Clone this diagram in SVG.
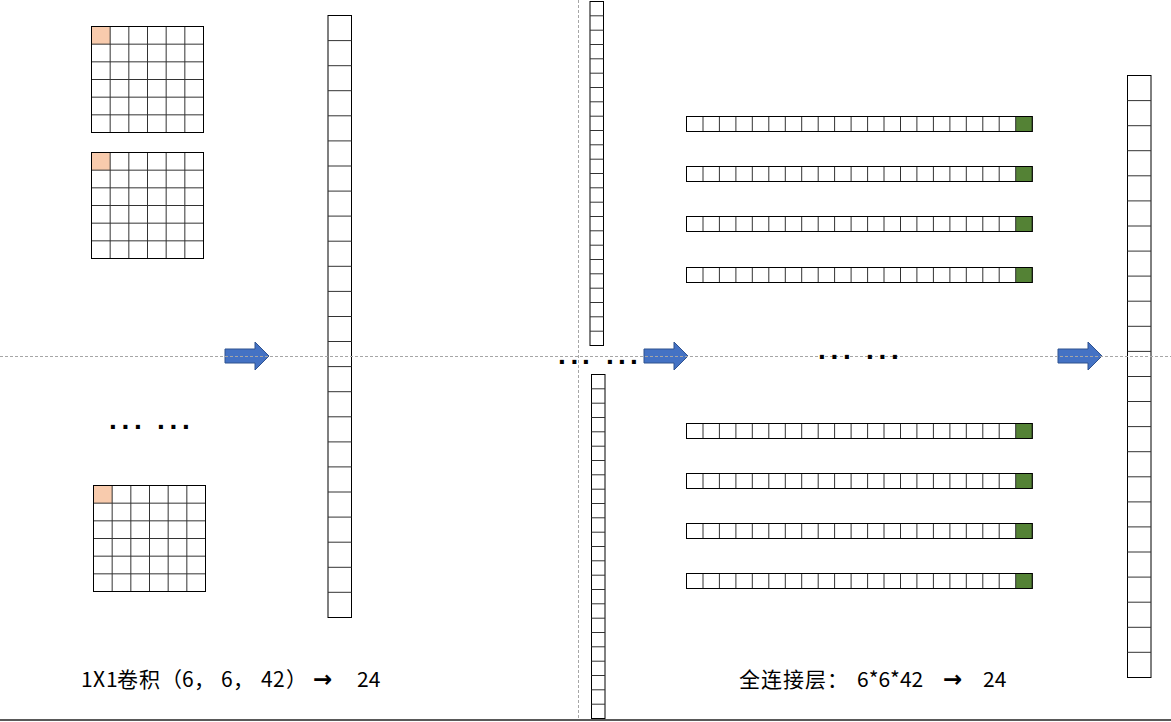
<svg xmlns="http://www.w3.org/2000/svg" xmlns:xlink="http://www.w3.org/1999/xlink" width="1171" height="722" viewBox="0 0 1171 722">
<style>
.cell{fill:#fff;stroke:#000;stroke-width:1}
.inner{fill:none;stroke:#333;stroke-width:1}
.orange{fill:#F8CBAD}
.green{fill:#548235}
.arrow{fill:#4472C4;stroke:#2F528F;stroke-width:1}
.dash{stroke:#a6a6a6;stroke-width:1;stroke-dasharray:3 2;fill:none}
.lbl{font-family:"Noto Sans CJK SC","Noto Sans",sans-serif;font-size:21px;fill:#000}
.arr{font-family:"DejaVu Sans",sans-serif;font-size:23px;font-weight:bold;fill:#000}
.dots{font-family:"Liberation Sans",sans-serif;font-size:28px;font-weight:bold;fill:#000}
</style>
<defs>
<g id="grid6">
<rect class="cell" x="0" y="0" width="112" height="106"/>
<rect class="orange" x="0.5" y="0.5" width="18.2" height="17.2"/>
<path class="inner" d="M18.67,0v106M37.33,0v106M56,0v106M74.67,0v106M93.33,0v106M0,17.67h112M0,35.33h112M0,53h112M0,70.67h112M0,88.33h112"/>
<rect x="0" y="0" width="112" height="106" fill="none" stroke="#000"/>
</g>
<g id="colBig">
<rect class="cell" x="0" y="0" width="23.5" height="602"/>
<path class="inner" d="M0,25.1h23.5M0,50.2h23.5M0,75.2h23.5M0,100.3h23.5M0,125.4h23.5M0,150.5h23.5M0,175.6h23.5M0,200.6h23.5M0,225.7h23.5M0,250.8h23.5M0,275.9h23.5M0,301h23.5M0,326h23.5M0,351.1h23.5M0,376.2h23.5M0,401.3h23.5M0,426.4h23.5M0,451.4h23.5M0,476.5h23.5M0,501.6h23.5M0,526.7h23.5M0,551.8h23.5M0,576.8h23.5"/>
</g>
<g id="colSmall">
<rect class="cell" x="0" y="0" width="13.5" height="344"/>
<path class="inner" d="M0,14.3h13.5M0,28.7h13.5M0,43h13.5M0,57.3h13.5M0,71.7h13.5M0,86h13.5M0,100.3h13.5M0,114.7h13.5M0,129h13.5M0,143.3h13.5M0,157.7h13.5M0,172h13.5M0,186.3h13.5M0,200.7h13.5M0,215h13.5M0,229.3h13.5M0,243.7h13.5M0,258h13.5M0,272.3h13.5M0,286.7h13.5M0,301h13.5M0,315.3h13.5M0,329.7h13.5"/>
</g>
<g id="row21">
<rect class="cell" x="0" y="0" width="345.7" height="15"/>
<rect class="green" x="329.2" y="0" width="16.5" height="15"/>
<path class="inner" d="M16.5,0v15M32.9,0v15M49.4,0v15M65.8,0v15M82.3,0v15M98.8,0v15M115.2,0v15M131.7,0v15M148.1,0v15M164.6,0v15M181.1,0v15M197.5,0v15M214,0v15M230.4,0v15M246.9,0v15M263.4,0v15M279.8,0v15M296.3,0v15M312.7,0v15M329.2,0v15"/>
<rect x="0" y="0" width="345.7" height="15" fill="none" stroke="#000"/>
</g>
<path id="blockArrow" d="M0,-7H30V-14L44,0L30,14V7H0Z"/>
</defs>
<rect x="0" y="0" width="1171" height="722" fill="#fff"/>

<g id="grid1"><use xlink:href="#grid6" href="#grid6" transform="translate(91.5,26.5)"/></g>
<g id="grid2"><use xlink:href="#grid6" href="#grid6" transform="translate(91.5,152.5)"/></g>
<g id="grid3"><use xlink:href="#grid6" href="#grid6" transform="translate(93.5,485.5)"/></g>
<g id="dotsLeft"><text class="dots" x="109 121.5 134 157 169.5 182" y="429">......</text></g>

<g id="colLeft"><use xlink:href="#colBig" href="#colBig" transform="translate(328,15.5)"/></g>

<g id="colMidTop"><use xlink:href="#colSmall" href="#colSmall" transform="translate(590,1.5)"/></g>
<g id="colMidBottom"><use xlink:href="#colSmall" href="#colSmall" transform="translate(591.5,374.5)"/></g>

<g id="row1"><use xlink:href="#row21" href="#row21" transform="translate(686.5,116.5)"/></g>
<g id="row2"><use xlink:href="#row21" href="#row21" transform="translate(686.5,166.5)"/></g>
<g id="row3"><use xlink:href="#row21" href="#row21" transform="translate(686.5,216.5)"/></g>
<g id="row4"><use xlink:href="#row21" href="#row21" transform="translate(686.5,267.5)"/></g>
<g id="row5"><use xlink:href="#row21" href="#row21" transform="translate(686.5,423.5)"/></g>
<g id="row6"><use xlink:href="#row21" href="#row21" transform="translate(686.5,473.5)"/></g>
<g id="row7"><use xlink:href="#row21" href="#row21" transform="translate(686.5,523.5)"/></g>
<g id="row8"><use xlink:href="#row21" href="#row21" transform="translate(686.5,573.5)"/></g>

<g id="colRight"><use xlink:href="#colBig" href="#colBig" transform="translate(1127.5,75.5)"/></g>

<g id="connectors">
<use xlink:href="#blockArrow" href="#blockArrow" class="arrow" transform="translate(225,356)"/>
<use xlink:href="#blockArrow" href="#blockArrow" class="arrow" transform="translate(644,356)"/>
<use xlink:href="#blockArrow" href="#blockArrow" class="arrow" transform="translate(1058,356)"/>
</g>

<g id="guides">
<line class="dash" x1="578.5" y1="0" x2="578.5" y2="719"/>
<line class="dash" x1="0" y1="356.5" x2="1171" y2="356.5"/>
<line x1="0" y1="720" x2="1171" y2="720" stroke="#595959" stroke-width="2"/>
</g>

<g id="dotsMid"><text class="dots" x="558 570.5 582 606 618 630" y="363.5">......</text></g>
<g id="dotsRight"><text class="dots" x="818 830.5 843 866 878.5 891" y="358.5">......</text></g>

<g id="labelLeft">
<text class="lbl" x="81 93 106 117 139 161 182 194 221 233 261 273 286" y="687">1X1卷积（6，6，42）</text>
<text class="arr" x="313" y="687">→</text>
<text class="lbl" x="357" y="687">24</text>
</g>
<g id="labelRight">
<text class="lbl" x="739 761 783 805 827" y="687">全连接层：</text>
<text class="lbl" x="857" y="687">6*6*42</text>
<text class="arr" x="943" y="687">→</text>
<text class="lbl" x="983" y="687">24</text>
</g>
</svg>
